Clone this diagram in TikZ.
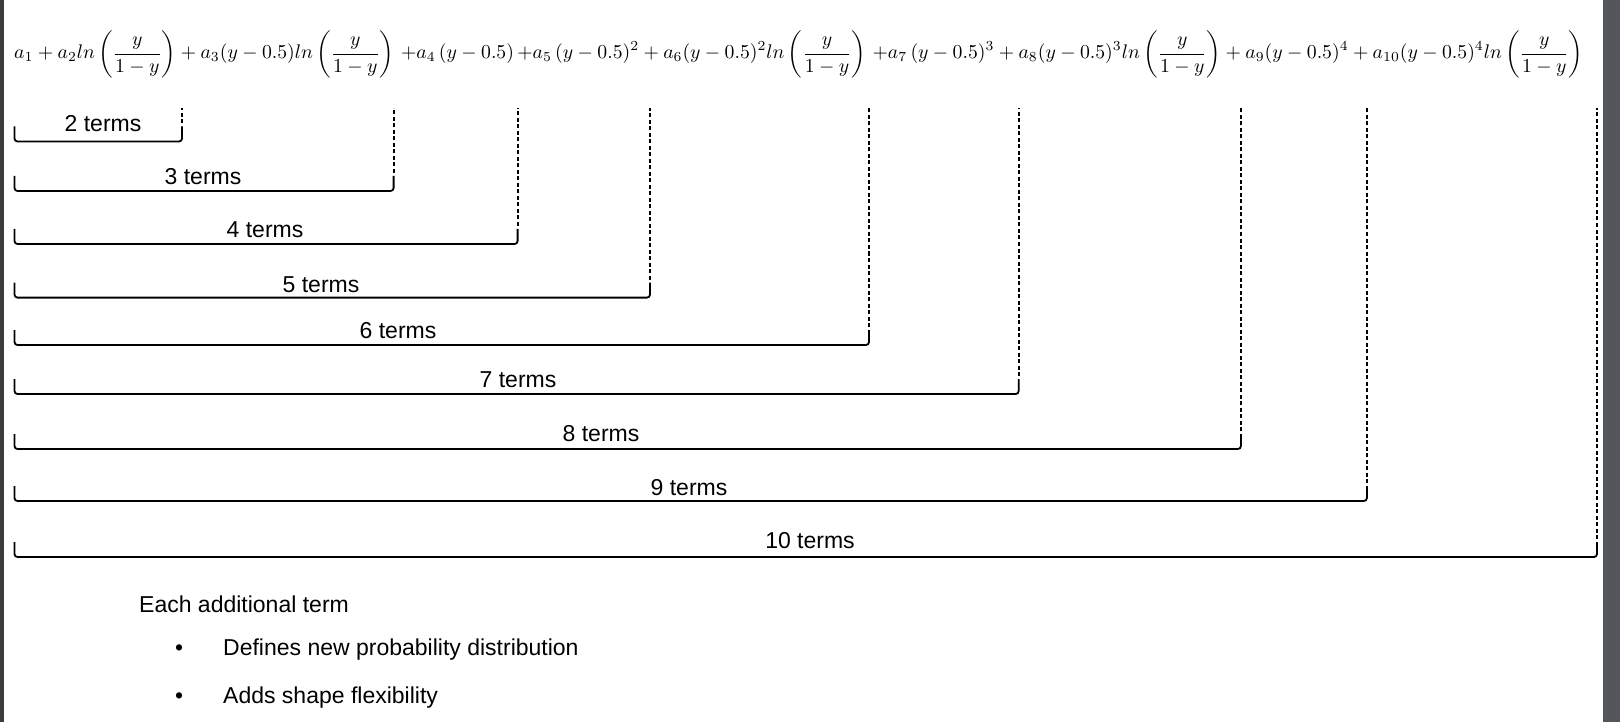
\documentclass[tikz,border=0pt]{standalone}
\usepackage{fontspec}
\setmainfont{Liberation Sans}
\usepackage{graphicx}
\usetikzlibrary{positioning}

\definecolor{barleft}{HTML}{3C3C3E}
\definecolor{barright}{HTML}{53575B}

\tikzstyle{termlabel} = [
    font=\fontsize{23}{27}\selectfont,
    inner sep=0pt,
    anchor=base
]
\tikzstyle{note} = [
    font=\fontsize{23}{27}\selectfont,
    inner sep=0pt,
    anchor=base west
]
\tikzstyle{bracket} = [line width=1.8pt, rounded corners=3pt]
\tikzstyle{guide} = [line width=1.8pt, dash pattern=on 4pt off 2.5pt]

\newcommand{\lnfrac}{ln\left(\frac{y}{1-y}\right)}

\begin{document}
\begin{tikzpicture}[x=1pt, y=-1pt]

\useasboundingbox (0,0) rectangle (1620,722);
\fill[barleft] (0,0) rectangle (4,722);
\fill[barright] (1603,0) rectangle (1620,722);

\node (formula) [anchor=west, inner sep=0pt] at (14,54)
{\resizebox{1569pt}{!}{$\displaystyle a_1 + a_2\lnfrac + a_3(y-0.5)\lnfrac\,{+}a_4\,(y-0.5)\,{+}a_5\,(y-0.5)^2 + a_6(y-0.5)^2\lnfrac\,{+}a_7\,(y-0.5)^3 + a_8(y-0.5)^3\lnfrac + a_9(y-0.5)^4 + a_{10}(y-0.5)^4\lnfrac$}};

% one bracket per number of terms
\foreach \n/\y/\xr/\tx/\ty in {
    2/141.5/182/103/124,
    3/191/393.6/203/177,
    4/244/517.6/265/229,
    5/297.6/650/321/284,
    6/345/869/398/330,
    7/394/1018.7/518/379,
    8/449/1240.9/601/433,
    9/501/1366.9/689/487,
    10/557/1597/810/540} {
    \coordinate (l\n) at (14.5,\y);
    \coordinate (r\n) at (\xr,\y);
    \coordinate (g\n) at (\xr,108);
    \node (t\n) [termlabel] at (\tx,\ty+8) {\n\ terms};
    \draw [bracket] ([yshift=15pt]l\n) -- (l\n) -- (r\n) -- ([yshift=15pt]r\n);
    \draw [guide] ([yshift=18pt]r\n) -- (g\n);
}

\node (each) [note] at (139,612) {Each additional term};
\node (b1) [note] at (175,655) {\textbullet};
\node (defines) [note] at (223,655) {Defines new probability distribution};
\node (b2) [note] at (175,703) {\textbullet};
\node (adds) [note] at (223,703) {Adds shape flexibility};

\end{tikzpicture}
\end{document}
